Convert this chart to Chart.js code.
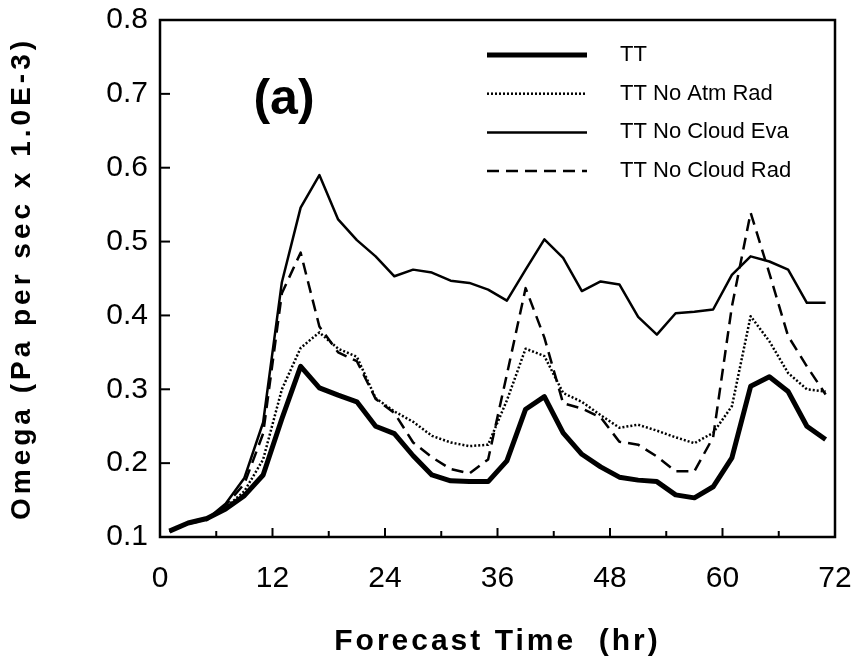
<!DOCTYPE html>
<html>
<head>
<meta charset="utf-8">
<script src="https://cdn.jsdelivr.net/npm/chart.js@4.4.0/dist/chart.umd.min.js"></script>
<style>
  body { margin: 0; background: #fff; }
</style>
</head>
<body>
<canvas id="omegaChart" width="858" height="670"></canvas>
<script>
// Horas de pronostico (cada 2 h)
const hours = [1, 3, 5, 7, 9, 11, 13, 15, 17, 19, 21, 23, 25, 27, 29, 31, 33, 35,
               37, 39, 41, 43, 45, 47, 49, 51, 53, 55, 57, 59, 61, 63, 65, 67, 69, 71];

// Series (Pa per sec x 1.0E-3)
const ttValues = [0.108, 0.119, 0.125, 0.138, 0.156, 0.184, 0.26, 0.331, 0.302, 0.292, 0.283, 0.25,
                  0.24, 0.21, 0.184, 0.176, 0.175, 0.175, 0.203, 0.273, 0.29, 0.241, 0.212, 0.195,
                  0.181, 0.177, 0.175, 0.157, 0.153, 0.168, 0.207, 0.304, 0.317, 0.297, 0.25, 0.232];
const noAtmRadValues = [0.108, 0.118, 0.124, 0.14, 0.162, 0.205, 0.3, 0.356, 0.377, 0.355, 0.344, 0.288,
                        0.27, 0.256, 0.237, 0.228, 0.223, 0.225, 0.285, 0.355, 0.345, 0.295, 0.283, 0.265,
                        0.248, 0.252, 0.244, 0.235, 0.227, 0.241, 0.277, 0.399, 0.365, 0.322, 0.3, 0.297];
const noCloudEvaValues = [0.108, 0.119, 0.124, 0.145, 0.18, 0.255, 0.445, 0.546, 0.59, 0.53, 0.502, 0.48,
                          0.453, 0.462, 0.458, 0.447, 0.444, 0.435, 0.42, 0.462, 0.503, 0.478, 0.433, 0.446,
                          0.442, 0.398, 0.374, 0.403, 0.405, 0.408, 0.455, 0.48, 0.473, 0.462, 0.417, 0.417];
const noCloudRadValues = [0.108, 0.118, 0.123, 0.143, 0.172, 0.24, 0.43, 0.485, 0.385, 0.35, 0.338, 0.287,
                          0.268, 0.228, 0.208, 0.192, 0.186, 0.205, 0.32, 0.437, 0.37, 0.281, 0.274, 0.262,
                          0.229, 0.225, 0.209, 0.189, 0.189, 0.235, 0.412, 0.539, 0.457, 0.372, 0.331, 0.293];

const seriesNames = ['TT', 'TT No Atm Rad', 'TT No Cloud Eva', 'TT No Cloud Rad'];
const xTickLabels = [0, 12, 24, 36, 48, 60, 72];
const yTickLabels = [0.1, 0.2, 0.3, 0.4, 0.5, 0.6, 0.7, 0.8];

const fontName = '"Liberation Sans", Arial, Helvetica, sans-serif';

function toPoints(values) {
  return values.map((v, i) => ({ x: hours[i], y: v }));
}

function makeDataset(label, values, width, dash) {
  return {
    label: label,
    data: toPoints(values),
    borderColor: '#000',
    borderWidth: width,
    borderDash: dash,
    borderJoinStyle: 'round',
    pointRadius: 0,
    tension: 0,
    fill: false
  };
}

// Marco, marcas interiores, leyenda y rotulos
const framePlugin = {
  id: 'framePlugin',
  afterDraw(chart) {
    const ctx = chart.ctx;
    const area = chart.chartArea;
    const xs = chart.scales.x;
    const ys = chart.scales.y;
    ctx.save();
    ctx.strokeStyle = '#000';

    // marcas del eje x (hacia dentro)
    ctx.lineWidth = 2;
    xs.ticks.forEach(t => {
      const px = xs.getPixelForValue(t.value);
      const len = (t.value % 12 === 0) ? 9 : 6;
      ctx.beginPath();
      ctx.moveTo(px, area.bottom);
      ctx.lineTo(px, area.bottom - len);
      ctx.stroke();
    });
    // marcas del eje y
    ys.ticks.forEach(t => {
      const py = ys.getPixelForValue(t.value);
      const major = Math.round(t.value * 100) % 10 === 0;
      ctx.beginPath();
      ctx.moveTo(area.left, py);
      ctx.lineTo(area.left + (major ? 10 : 7), py);
      ctx.stroke();
    });

    // marco
    ctx.lineWidth = 2.5;
    ctx.strokeRect(area.left, area.top, area.right - area.left, area.bottom - area.top);

    // leyenda
    ctx.fillStyle = '#000';
    ctx.font = '22px ' + fontName;
    ctx.textBaseline = 'middle';
    ctx.textAlign = 'left';
    chart.data.datasets.forEach((ds, i) => {
      const y = 55 + i * 38.7;
      ctx.lineWidth = ds.borderWidth;
      ctx.setLineDash(ds.borderDash || []);
      ctx.beginPath();
      ctx.moveTo(487, y);
      ctx.lineTo(587, y);
      ctx.stroke();
      ctx.setLineDash([]);
      ctx.fillText(ds.label, 620, y);
    });

    // etiqueta del panel
    ctx.font = 'bold 50px ' + fontName;
    ctx.textAlign = 'center';
    ctx.fillText('(a)', 284, 100);

    // titulos de los ejes
    ctx.letterSpacing = '3px';
    ctx.font = 'bold 30px ' + fontName;
    ctx.fillText('Forecast Time  (hr)', (area.left + area.right) / 2, 642);
    ctx.letterSpacing = '4px';
    ctx.translate(22, (area.top + area.bottom) / 2);
    ctx.rotate(-Math.PI / 2);
    ctx.font = 'bold 28px ' + fontName;
    ctx.fillText('Omega (Pa per sec x 1.0E-3)', 0, 0);
    ctx.restore();
  }
};

const omegaChart = new Chart(document.getElementById('omegaChart'), {
  type: 'line',
  data: {
    datasets: [
      makeDataset(seriesNames[0], ttValues, 5, []),
      makeDataset(seriesNames[1], noAtmRadValues, 2.5, [2, 2]),
      makeDataset(seriesNames[2], noCloudEvaValues, 2.5, []),
      makeDataset(seriesNames[3], noCloudRadValues, 2.5, [12, 7])
    ]
  },
  options: {
    responsive: false,
    animation: false,
    devicePixelRatio: 1,
    layout: { padding: { top: 20, right: 23, left: 0, bottom: 0 } },
    plugins: {
      legend: { display: false },
      tooltip: { enabled: false }
    },
    scales: {
      x: {
        type: 'linear',
        min: 0,
        max: 72,
        grid: { display: false, drawTicks: false },
        border: { display: false },
        ticks: {
          stepSize: 6,
          padding: 24,
          color: '#000',
          font: { family: fontName, size: 30 },
          callback: v => xTickLabels.includes(v) ? String(v) : ''
        },
        afterFit(scale) {
          scale.height = 133;
          scale.paddingLeft = 0;
          scale.paddingRight = 0;
        }
      },
      y: {
        min: 0.1,
        max: 0.8,
        grid: { display: false, drawTicks: false },
        border: { display: false },
        ticks: {
          stepSize: 0.05,
          padding: 12,
          color: '#000',
          font: { family: fontName, size: 30 },
          callback: v => {
            const r = Math.round(v * 100) / 100;
            return yTickLabels.includes(r) ? r.toFixed(1) : '';
          }
        },
        afterFit(scale) {
          scale.width = 160;
          scale.paddingTop = 0;
          scale.paddingBottom = 0;
        }
      }
    }
  },
  plugins: [framePlugin]
});
</script>
</body>
</html>
